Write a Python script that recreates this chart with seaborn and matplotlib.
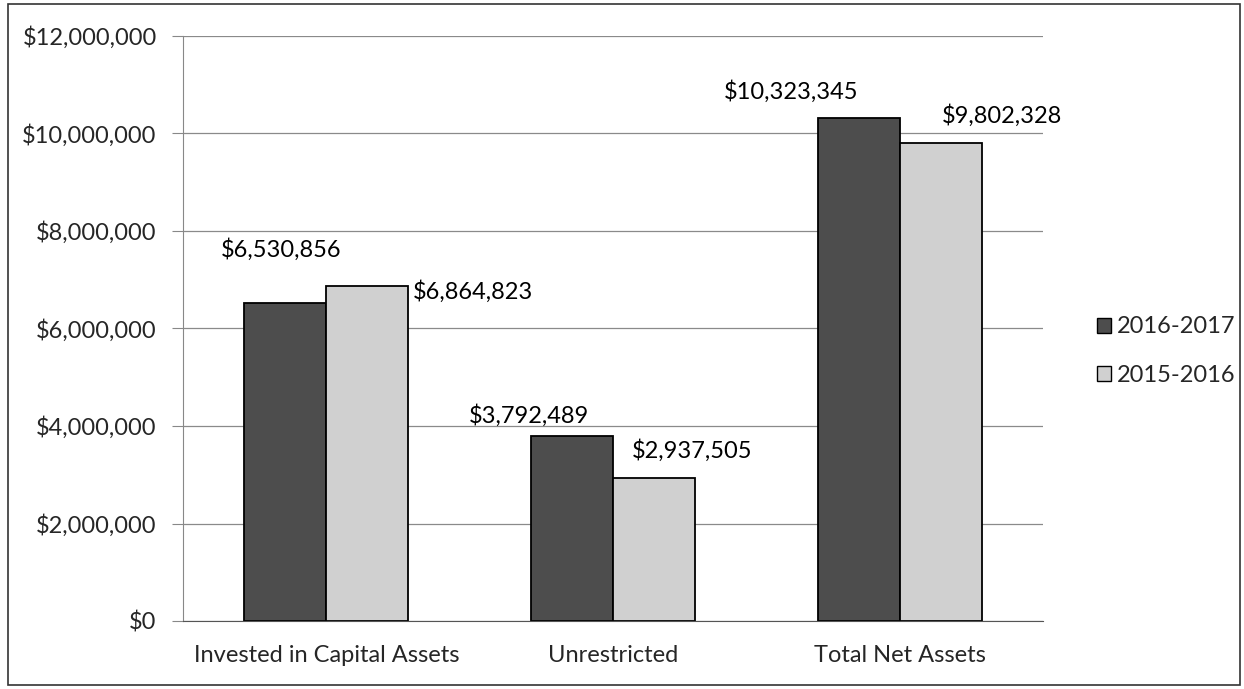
import numpy as np
import pandas as pd
import matplotlib
matplotlib.use("Agg")
from matplotlib import pyplot as plt
from matplotlib.patches import Rectangle, Patch
from matplotlib.ticker import FuncFormatter
import seaborn as sns

sns.set_style('white')
plt.rcParams['font.family'] = ['Lato', 'DejaVu Sans']

categories = ["Invested in Capital Assets", "Unrestricted", "Total Net Assets"]
years = ["2016-2017", "2015-2016"]
values_1617 = [6530856, 3792489, 10323345]
values_1516 = [6864823, 2937505, 9802328]

df = pd.DataFrame({
    "category": categories * 2,
    "year": [years[0]] * 3 + [years[1]] * 3,
    "value": values_1617 + values_1516,
})

colors = {"2016-2017": "#4d4d4d", "2015-2016": "#d0d0d0"}
# label offsets in pixels from bar top centre (Excel nudged them around)
label_offsets = {
    "2016-2017": [(-4, 53), (-43, 21), (-68, 26)],
    "2015-2016": [(106, -5), (38, 27), (61, 28)],
}
FS = 17

fig = plt.figure(figsize=(12.44, 6.89), dpi=100)
ax = fig.add_axes([183 / 1244, 1 - 621 / 689, (1043 - 183) / 1244, (621 - 36) / 689])

sns.barplot(data=df, x="category", y="value", hue="year", order=categories,
            hue_order=years, palette=colors, width=0.572, saturation=1,
            edgecolor="black", linewidth=1.3, legend=False, ax=ax)

for cont, yr in zip(ax.containers, years):
    for bar, (dx, dy) in zip(cont, label_offsets[yr]):
        h = bar.get_height()
        ax.annotate(f"${h:,.0f}", (bar.get_x() + bar.get_width() / 2, h),
                    xytext=(dx, dy), textcoords="offset pixels",
                    ha="center", va="center", fontsize=FS, color="black")

ax.set_ylim(0, 12000000)
ax.set_xlim(-0.5, 2.5)
ax.set_yticks(np.arange(0, 12000001, 2000000))
ax.yaxis.set_major_formatter(FuncFormatter(lambda v, p: f"${v:,.0f}"))
ax.grid(axis="y", color="#8a8a8a", linewidth=0.9)
ax.set_axisbelow(True)
ax.set_xlabel("")
ax.set_ylabel("")

ax.set_xticks([-0.5, 0.5, 1.5, 2.5], minor=True)
ax.tick_params(axis="x", which="major", length=0, pad=17, labelsize=FS)
ax.tick_params(axis="x", which="minor", length=6, color="#555555", direction="out")
ax.tick_params(axis="y", length=8, color="#888888", pad=11, labelsize=FS, left=True)

for s in ["top", "right"]:
    ax.spines[s].set_visible(False)
ax.spines["left"].set_color("#888888")
ax.spines["bottom"].set_color("#555555")

handles = [Patch(facecolor=colors[y], edgecolor="black", linewidth=1.0) for y in years]
fig.legend(handles, years, loc="center left", bbox_to_anchor=(1076 / 1244, 1 - 351 / 689),
           frameon=False, fontsize=FS, handlelength=0.6, handleheight=0.6,
           handletextpad=0.25, labelspacing=1.15)

fig.patches.append(Rectangle((8 / 1244, 4 / 689), 1232 / 1244, 681 / 689,
                             transform=fig.transFigure, fill=False,
                             edgecolor="#333333", linewidth=1.2))

fig.savefig("out.png", dpi=100)
